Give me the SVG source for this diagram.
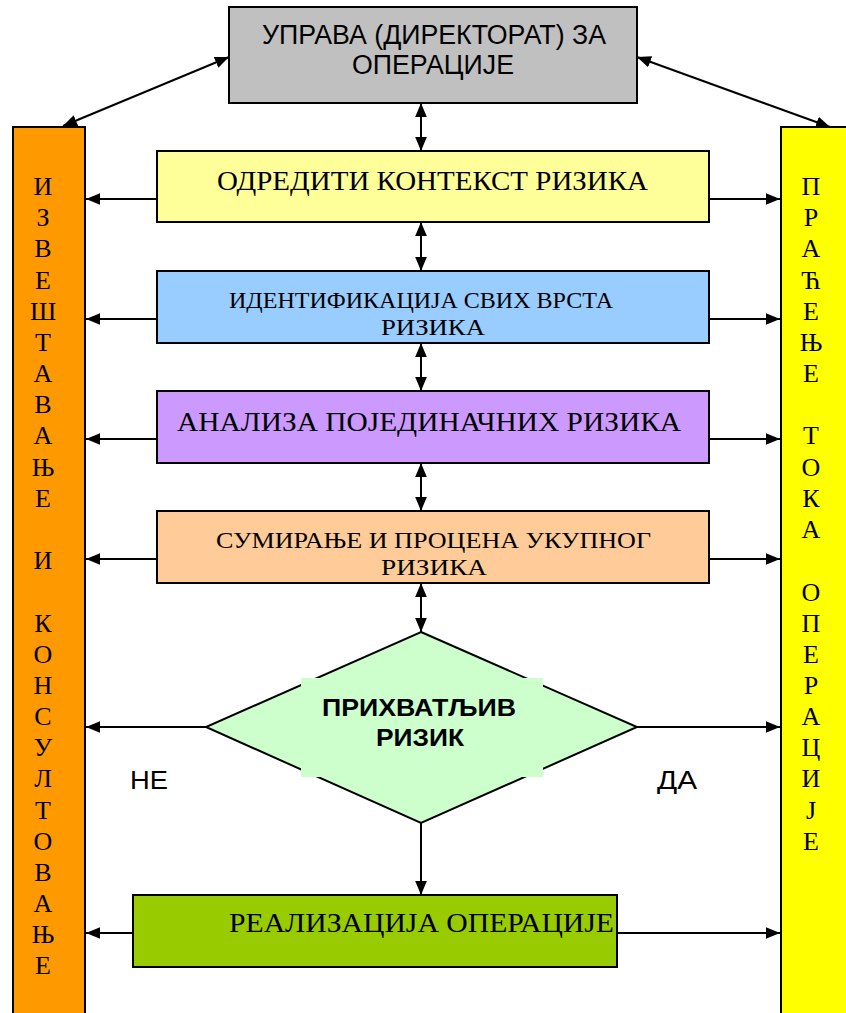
<svg xmlns="http://www.w3.org/2000/svg" width="846" height="1013" viewBox="0 0 846 1013">
<style>
.box{stroke:#000;stroke-width:2}
.ser{font-family:"Liberation Serif","DejaVu Serif",serif;fill:#000}
.san{font-family:"Liberation Sans","DejaVu Sans",sans-serif;fill:#000}
.col{font-family:"Liberation Serif","DejaVu Serif",serif;font-size:26px;text-anchor:middle;fill:#000}
.ln{stroke:#000;stroke-width:2;fill:none}
.one{marker-end:url(#ah)}
.two{marker-start:url(#ah);marker-end:url(#ah)}
</style>
<defs>
<marker id="ah" viewBox="0 0 12 10" refX="12" refY="5" markerWidth="14" markerHeight="12" markerUnits="userSpaceOnUse" orient="auto-start-reverse">
<path d="M0,0 L12,5 L0,10 z" fill="#000"/>
</marker>
</defs>
<rect width="846" height="1013" fill="#fff"/>

<g id="left-column">
<rect class="box" x="13" y="127" width="72" height="900" fill="#FF9900" stroke-width="2.5"/>
<text class="col" x="43">
<tspan x="43" y="195">И</tspan><tspan x="43" y="226">З</tspan><tspan x="43" y="257">В</tspan><tspan x="43" y="289">Е</tspan><tspan x="43" y="320">Ш</tspan><tspan x="43" y="351">Т</tspan><tspan x="43" y="382">А</tspan><tspan x="43" y="413">В</tspan><tspan x="43" y="444">А</tspan><tspan x="43" y="476">Њ</tspan><tspan x="43" y="507">Е</tspan><tspan x="43" y="569">И</tspan><tspan x="43" y="632">К</tspan><tspan x="43" y="663">О</tspan><tspan x="43" y="694">Н</tspan><tspan x="43" y="725">С</tspan><tspan x="43" y="756">У</tspan><tspan x="43" y="787">Л</tspan><tspan x="43" y="819">Т</tspan><tspan x="43" y="850">О</tspan><tspan x="43" y="881">В</tspan><tspan x="43" y="912">А</tspan><tspan x="43" y="943">Њ</tspan><tspan x="43" y="974">Е</tspan>
</text>
</g>

<g id="right-column">
<rect class="box" x="781" y="127" width="74" height="900" fill="#FFFF00" stroke-width="2.5"/>
<text class="col" x="811">
<tspan x="811" y="195">П</tspan><tspan x="811" y="226">Р</tspan><tspan x="811" y="257">А</tspan><tspan x="811" y="289">Ћ</tspan><tspan x="811" y="320">Е</tspan><tspan x="811" y="351">Њ</tspan><tspan x="811" y="382">Е</tspan><tspan x="811" y="444">Т</tspan><tspan x="811" y="476">О</tspan><tspan x="811" y="507">К</tspan><tspan x="811" y="538">А</tspan><tspan x="811" y="601">О</tspan><tspan x="811" y="632">П</tspan><tspan x="811" y="663">Е</tspan><tspan x="811" y="694">Р</tspan><tspan x="811" y="725">А</tspan><tspan x="811" y="756">Ц</tspan><tspan x="811" y="787">И</tspan><tspan x="811" y="819">Ј</tspan><tspan x="811" y="850">Е</tspan>
</text>
</g>

<g id="management">
<rect class="box" x="229" y="7" width="408" height="96" fill="#C0C0C0"/>
<text class="san" font-size="27" x="262" y="44" textLength="344" lengthAdjust="spacingAndGlyphs">УПРАВА (ДИРЕКТОРАТ) ЗА</text>
<text class="san" font-size="27" x="352" y="74" textLength="162" lengthAdjust="spacingAndGlyphs">ОПЕРАЦИЈЕ</text>
</g>

<g id="context">
<rect class="box" x="157" y="151" width="552" height="71" fill="#FFFF99"/>
<text class="ser" font-size="28" x="217" y="190" textLength="431" lengthAdjust="spacingAndGlyphs">ОДРЕДИТИ КОНТЕКСТ РИЗИКА</text>
</g>

<g id="identification">
<rect class="box" x="157" y="271" width="552" height="72" fill="#99CCFF"/>
<text class="ser" font-size="24" x="229" y="308" textLength="384" lengthAdjust="spacingAndGlyphs">ИДЕНТИФИКАЦИЈА СВИХ ВРСТА</text>
<text class="ser" font-size="24" x="381" y="335" textLength="104" lengthAdjust="spacingAndGlyphs">РИЗИКА</text>
</g>

<g id="analysis">
<rect class="box" x="157" y="391" width="552" height="72" fill="#CC99FF"/>
<text class="ser" font-size="28" x="177" y="431" textLength="504" lengthAdjust="spacingAndGlyphs">АНАЛИЗА ПОЈЕДИНАЧНИХ РИЗИКА</text>
</g>

<g id="summary">
<rect class="box" x="157" y="511" width="552" height="72" fill="#FFCC99"/>
<text class="ser" font-size="24" x="216" y="548" textLength="435" lengthAdjust="spacingAndGlyphs">СУМИРАЊЕ И ПРОЦЕНА УКУПНОГ</text>
<text class="ser" font-size="24" x="381" y="575" textLength="106" lengthAdjust="spacingAndGlyphs">РИЗИКА</text>
</g>

<g id="decision">
<polygon points="421,632 637,727 421,823 206,727" fill="#CCFFCC" stroke="#000" stroke-width="2"/>
<rect x="301" y="678" width="242" height="99" fill="#CCFFCC"/>
<text class="san" font-size="24" font-weight="bold" x="322" y="716" textLength="194" lengthAdjust="spacingAndGlyphs">ПРИХВАТЉИВ</text>
<text class="san" font-size="24" font-weight="bold" x="376" y="746" textLength="88" lengthAdjust="spacingAndGlyphs">РИЗИК</text>
</g>

<g id="realization">
<rect class="box" x="133" y="895" width="484" height="72" fill="#99CC00"/>
<text class="ser" font-size="27" x="229" y="932" textLength="385" lengthAdjust="spacingAndGlyphs">РЕАЛИЗАЦИЈА ОПЕРАЦИЈЕ</text>
</g>

<g id="labels">
<text class="san" font-size="25" x="130" y="789" textLength="38" lengthAdjust="spacingAndGlyphs">НЕ</text>
<text class="san" font-size="25" x="657" y="789" textLength="40" lengthAdjust="spacingAndGlyphs">ДА</text>
</g>

<g id="connectors">
<line class="ln two" x1="229" y1="57" x2="63" y2="126"/>
<line class="ln two" x1="637" y1="57" x2="830" y2="127"/>
<line class="ln two" x1="421" y1="103" x2="421" y2="151"/>
<line class="ln two" x1="421" y1="222" x2="421" y2="271"/>
<line class="ln two" x1="421" y1="343" x2="421" y2="391"/>
<line class="ln two" x1="421" y1="463" x2="421" y2="511"/>
<line class="ln two" x1="421" y1="583" x2="421" y2="632"/>
<line class="ln one" x1="421" y1="823" x2="421" y2="895"/>
<line class="ln one" x1="157" y1="199" x2="86" y2="199"/>
<line class="ln one" x1="157" y1="319" x2="86" y2="319"/>
<line class="ln one" x1="157" y1="439" x2="86" y2="439"/>
<line class="ln one" x1="157" y1="559" x2="86" y2="559"/>
<line class="ln one" x1="206" y1="727" x2="86" y2="727"/>
<line class="ln one" x1="133" y1="933" x2="86" y2="933"/>
<line class="ln one" x1="709" y1="199" x2="780" y2="199"/>
<line class="ln one" x1="709" y1="319" x2="780" y2="319"/>
<line class="ln one" x1="709" y1="439" x2="780" y2="439"/>
<line class="ln one" x1="709" y1="559" x2="780" y2="559"/>
<line class="ln one" x1="637" y1="727" x2="780" y2="727"/>
<line class="ln one" x1="617" y1="933" x2="780" y2="933"/>
</g>
</svg>
